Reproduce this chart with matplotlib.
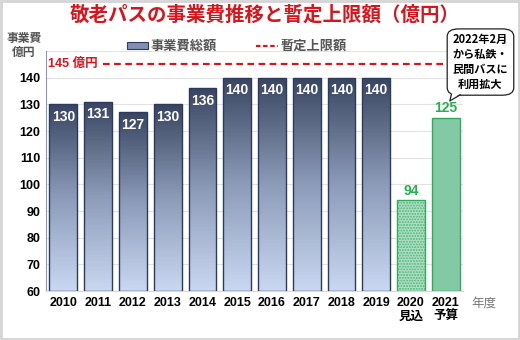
import numpy as np
import matplotlib.pyplot as plt
from matplotlib.colors import LinearSegmentedColormap
from matplotlib.patches import FancyBboxPatch, Polygon, Rectangle
from matplotlib.lines import Line2D

plt.rcParams['font.family'] = ['Liberation Sans', 'Noto Sans CJK JP', 'DejaVu Sans']
plt.rcParams['hatch.linewidth'] = 0.4

years = ['2010', '2011', '2012', '2013', '2014', '2015', '2016', '2017', '2018', '2019',
         '2020\n見込', '2021\n予算']
costs = [130, 131, 127, 130, 136, 140, 140, 140, 140, 140, 94, 125]
cap = 145
title = '敬老パスの事業費推移と暫定上限額（億円）'
note = '2022年2月\nから私鉄・\n民間バスに\n利用拡大'

navy_cmap = LinearSegmentedColormap.from_list('navy', ['#c9d7f1', '#8c9bb8', '#3a4661'])
green = '#82caa3'
green_edge = '#33a95e'
red = '#d9141c'

fig = plt.figure(figsize=(5.2, 3.4), dpi=100)
ax = fig.add_axes([0.0885, 0.144, 0.802, 0.706])

x = np.arange(len(years))
base = 60
n_hist = 10
bars = ax.bar(x, np.array(costs) - base, bottom=base, width=0.8, zorder=3)

for i, b in enumerate(bars):
    if i < n_hist:
        b.set_facecolor('none')
        b.set_edgecolor('#2c3a5e')
        b.set_linewidth(1.0)
        grad = np.linspace(1, 0, 100).reshape(-1, 1)
        im = ax.imshow(grad, cmap=navy_cmap, aspect='auto', zorder=2.5,
                       extent=[b.get_x(), b.get_x() + b.get_width(), base, costs[i]])
        im.set_clip_path(b)
        ax.annotate(str(costs[i]), (x[i], costs[i]), xytext=(0, -4), textcoords='offset points',
                    ha='center', va='top', color='white', fontsize=10, fontweight='bold', zorder=5)
    else:
        b.set_facecolor(green)
        b.set_edgecolor(green_edge)
        b.set_linewidth(1.0)
        if i == n_hist:
            # dotted texture under the outline
            b.set_facecolor('none')
            ax.bar(x[i], costs[i] - base, bottom=base, width=0.8, facecolor='#acdec2',
                   edgecolor='#6cc08f', linewidth=0, hatch='oooooo', zorder=2.8)
        ax.annotate(str(costs[i]), (x[i], costs[i]), xytext=(0, 2), textcoords='offset points',
                    ha='center', va='bottom', color='#25b050', fontsize=10, fontweight='bold', zorder=5)

# provisional cap
ax.hlines(cap, 1.15, 11.0, colors=red, linestyles=(0, (3, 2)), linewidth=1.6, zorder=4)
ax.text(-0.45, cap, '145 億円', color=red, fontsize=9, fontweight='bold', va='center', ha='left', zorder=5)

ax.set_xlim(-0.5, 11.5)
ax.set_ylim(60, 150)
ax.set_yticks(range(60, 150, 10))
ax.set_xticks(x)
ax.set_xticklabels(years)
ax.tick_params(axis='both', length=0, labelsize=9, pad=4)
for t in ax.get_xticklabels() + ax.get_yticklabels():
    t.set_fontweight('bold')
ax.grid(axis='y', color='#e2e2e2', linewidth=0.8, zorder=0)
ax.axhline(150, color='#e2e2e2', linewidth=0.8, zorder=0)
for s in ['top', 'right']:
    ax.spines[s].set_visible(False)
ax.spines['left'].set_color('#8a96b4')
ax.spines['bottom'].set_color('#d8d8d8')

# legend
handles = [Rectangle((0, 0), 1, 1, facecolor='#7f90b4', edgecolor='#2c3a5e', linewidth=0.8),
           Line2D([], [], color=red, linestyle=(0, (2, 1.2)), linewidth=1.6)]
leg = fig.legend(handles, ['事業費総額', '暫定上限額'], loc='center', bbox_to_anchor=(0.455, 0.862),
                 ncol=2, frameon=False, fontsize=9.5, handlelength=1.6, handleheight=0.4,
                 columnspacing=3.0, handletextpad=0.2, labelcolor='#555555')
for t in leg.get_texts():
    t.set_fontweight('bold')

fig.text(0.51, 0.955, title, color=red, fontsize=14, fontweight='bold', ha='center', va='center',
         family=['Noto Sans CJK JP'])
fig.text(0.046, 0.865, '事業費\n億円', color='#555555', fontsize=8.5, fontweight='bold',
         ha='center', va='center', linespacing=1.2)
fig.text(0.93, 0.108, '年度', color='#777777', fontsize=9, ha='center', va='center')

# callout box
box = FancyBboxPatch((0.860, 0.72), 0.128, 0.195, boxstyle='round,pad=0,rounding_size=0.022',
                     transform=fig.transFigure, facecolor='white', edgecolor='#222222',
                     linewidth=0.9, zorder=10)
fig.patches.append(box)
tail = Polygon([(0.868, 0.725), (0.865, 0.703), (0.885, 0.725)], closed=False,
               transform=fig.transFigure, facecolor='white', edgecolor='none', zorder=11)
fig.patches.append(tail)
fig.lines.append(Line2D([0.868, 0.865, 0.885], [0.722, 0.703, 0.721], transform=fig.transFigure,
                        color='#222222', linewidth=0.9, zorder=12))
fig.text(0.924, 0.818, note, fontsize=8.0, fontweight='bold', ha='center', va='center',
         linespacing=1.2, zorder=13, family=['Noto Sans CJK JP'])

# outer frame
fig.patches.append(Rectangle((0.002, 0.003), 0.996, 0.994, transform=fig.transFigure,
                             facecolor='none', edgecolor='#d4d4d4', linewidth=2))

fig.savefig('out.png', dpi=100)
